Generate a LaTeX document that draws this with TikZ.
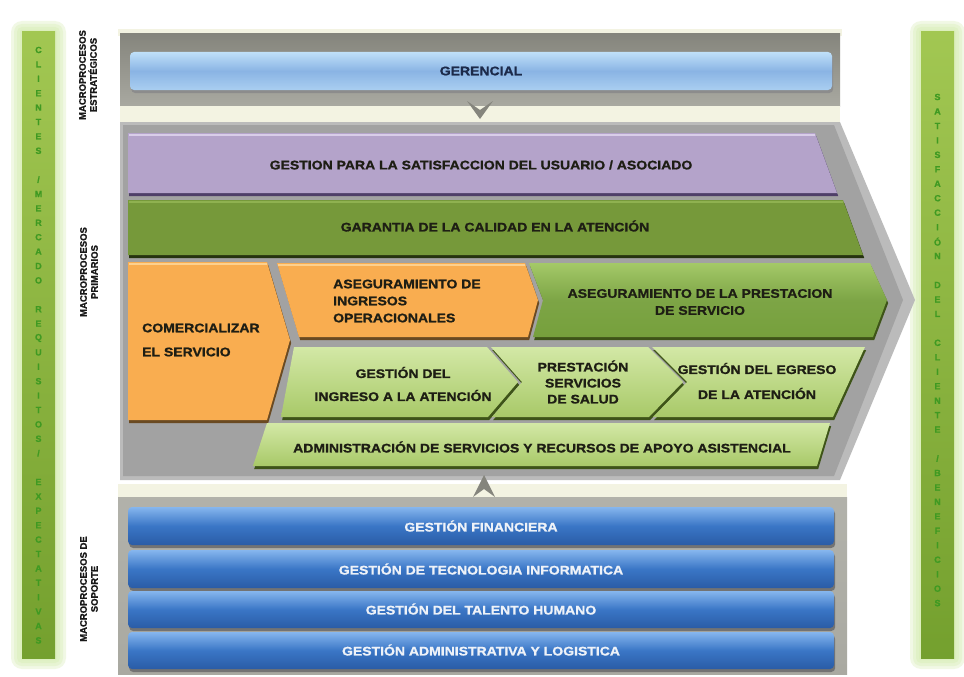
\documentclass[tikz,border=0pt]{standalone}
\usepackage{fontspec}
\setmainfont{Liberation Sans}[FakeStretch=1.12, BoldFeatures={FakeBold=1.2}]
\newfontfamily\tagfont{Liberation Sans}[BoldFeatures={FakeBold=1}]
\usetikzlibrary{calc}

\definecolor{sidetop}{HTML}{A2C752}
\definecolor{sidebot}{HTML}{74A02E}
\definecolor{sideglow}{HTML}{D3EBAA}
\definecolor{sideink}{HTML}{3F9A22}
\definecolor{panelgray}{HTML}{A9A9A1}
\definecolor{paneldark}{HTML}{85857D}
\definecolor{cream}{HTML}{F3F3E2}
\definecolor{grayout}{HTML}{BBBBBB}
\definecolor{grayin}{HTML}{A2A2A2}
\definecolor{gerblue}{HTML}{8AB4E4}
\definecolor{gerbluetop}{HTML}{BFE0F9}
\definecolor{gertext}{HTML}{1C2A4A}
\definecolor{lilac}{HTML}{B4A3CA}
\definecolor{lilactop}{HTML}{D9CDE9}
\definecolor{lilacshadow}{HTML}{4F3F68}
\definecolor{olive}{HTML}{76993A}
\definecolor{olivetop}{HTML}{8FB150}
\definecolor{oliveshadow}{HTML}{26330F}
\definecolor{orng}{HTML}{F9AD50}
\definecolor{orngtop}{HTML}{FDD08E}
\definecolor{orngshadow}{HTML}{6A4A22}
\definecolor{midgreen}{HTML}{76A03C}
\definecolor{midgreentop}{HTML}{A4C968}
\definecolor{lightgreen}{HTML}{A8C968}
\definecolor{lightgreentop}{HTML}{D3E8A6}
\definecolor{greenshadow}{HTML}{3E5418}
\definecolor{supblue}{HTML}{3A76C6}
\definecolor{supbluetop}{HTML}{86B6EE}
\definecolor{supbluebot}{HTML}{2A5CA6}
\definecolor{darktext}{HTML}{1E1E14}
\definecolor{suptext}{HTML}{EEF2F8}

\tikzset{
  lbl/.style={font=\bfseries\fontsize{12.5}{15}\selectfont, text=darktext, align=center, inner sep=0pt},
  suplbl/.style={lbl, text=suptext},
  sidechar/.style={font=\tagfont\bfseries\fontsize{9}{9}\selectfont, text=sideink, inner sep=0pt},
  vtag/.style={font=\tagfont\bfseries\fontsize{9.5}{11}\selectfont, text=black!90, rotate=90, align=center, inner sep=0pt},
  dropshade/.style={preaction={fill=#1, transform canvas={shift={(1.2pt,-3pt)}}}},
  lightchev/.style={top color=lightgreentop, bottom color=lightgreen, dropshade=greenshadow},
  supbar/.style={rounded corners=4pt, top color=supbluetop, bottom color=supbluebot, middle color=supblue,
    dropshade=black!55},
}

\begin{document}
\begin{tikzpicture}[x=1pt,y=-1pt]
\useasboundingbox (0,0) rectangle (964,677);
\fill[white] (0,0) rectangle (964,677);

% ---- side bars with soft glow ----
\foreach \bx in {22,921}{
  \foreach \g in {11,8,5,2}{
    \fill[sideglow, opacity=0.3, rounded corners=\g pt] ({\bx-\g},{32-\g}) rectangle ({\bx+33+\g},{658+\g});
  }
  \shade[top color=sidetop, bottom color=sidebot] (\bx,32) rectangle ({\bx+33},658);
}
\foreach \c [count=\i] in {C,L,I,E,N,T,E,S,{},/,M,E,R,C,A,D,O,{},R,E,Q,U,I,S,I,T,O,S,/,{},E,X,P,E,C,T,A,T,I,V,A,S}
  \node[sidechar] (cl\i) at (38.5,{50+(\i-1)*14.4}) {\c};
\foreach \c [count=\i] in {S,A,T,I,S,F,A,C,C,I,Ó,N,{},D,E,L,{},C,L,I,E,N,T,E,{},/,B,E,N,E,F,I,C,I,O,S}
  \node[sidechar] (sc\i) at (937.5,{97+(\i-1)*14.46}) {\c};

% ---- row labels ----
\node[vtag] (tagest) at (88,75) {MACROPROCESOS\\ESTRATÉGICOS};
\node[vtag] (tagpri) at (89,272) {MACROPROCESOS\\PRIMARIOS};
\node[vtag] (tagsop) at (89,589) {MACROPROCESOS DE\\SOPORTE};

% ---- strategic level ----
\fill[cream] (118,29) rectangle (842,36);
\shade[top color=paneldark, bottom color=panelgray] (120,34) rectangle (840,106);
\fill[cream] (120,106) rectangle (840,123);
\path[rounded corners=4pt, top color=gerbluetop, bottom color=gerbluetop!60!gerblue, middle color=gerblue,
  dropshade=black!45] (130,52) rectangle (832,90);
\node[lbl, text=gertext] (ger) at (481,71) {GERENCIAL};
\fill[paneldark] (467,101) -- (480,110) -- (493,101) -- (480,119) -- cycle;

% ---- primary level ----
\fill[grayout] (120,122) -- (840,122) -- (915,300) -- (840,480) -- (120,480) -- cycle;
\fill[grayin] (123,125) -- (834,125) -- (903,300) -- (834,476) -- (123,476) -- cycle;

\fill[lilac, dropshade=lilacshadow] (128,133) -- (815,133) -- (837,193) -- (128,193) -- cycle;
\draw[lilactop, line width=2.5pt] (129,135) -- (815,135);
\node[lbl] (usu) at (481,165) {GESTION PARA LA SATISFACCION DEL USUARIO / ASOCIADO};

\fill[olive, dropshade=oliveshadow] (128,200) -- (843,200) -- (863,255) -- (128,255) -- cycle;
\draw[olivetop, line width=2pt] (129,202) -- (843,202);
\node[lbl] (cal) at (495,226) {GARANTIA DE LA CALIDAD EN LA ATENCIÓN};

\fill[orng, dropshade=orngshadow] (128,262) -- (267,262) -- (290,340) -- (267,420) -- (128,420) -- cycle;
\draw[orngtop, line width=2pt] (129,264) -- (267,264);
\node[lbl, align=left, anchor=west, font=\bfseries\fontsize{12.5}{24}\selectfont] (com) at (142,340) {COMERCIALIZAR\\EL SERVICIO};

\fill[orng, dropshade=orngshadow] (277,263) -- (525,263) -- (538,300) -- (528,337) -- (299,337) -- cycle;
\draw[orngtop, line width=2pt] (278,265) -- (525,265);
\node[lbl, align=left, anchor=west, font=\bfseries\fontsize{12.5}{17}\selectfont] (ing) at (333,301) {ASEGURAMIENTO DE\\INGRESOS\\OPERACIONALES};

\path[top color=midgreentop, bottom color=midgreen, middle color=midgreen!95!white, dropshade=greenshadow]
  (529,263) -- (870,263) -- (887,300) -- (873,337) -- (533,337) -- (543,300) -- cycle;
\node[lbl, font=\bfseries\fontsize{12.5}{17}\selectfont] (pre) at (700,302) {ASEGURAMIENTO DE LA PRESTACION\\DE SERVICIO};

\path[lightchev] (294,347) -- (487,347) -- (518,382) -- (488,417) -- (281,417) -- cycle;
\node[lbl, font=\bfseries\fontsize{12.5}{23}\selectfont] (gin) at (403,384) {GESTIÓN DEL\\INGRESO A LA ATENCIÓN};

\path[lightchev] (491,347) -- (648,347) -- (683,382) -- (649,417) -- (492,417) -- (522,382) -- cycle;
\node[lbl, font=\bfseries\fontsize{12.5}{16}\selectfont] (sal) at (583,382) {PRESTACIÓN\\SERVICIOS\\DE SALUD};

\path[lightchev] (652,347) -- (865,347) -- (833,417) -- (653,417) -- (687,382) -- cycle;
\node[lbl, font=\bfseries\fontsize{12.5}{25}\selectfont] (egr) at (757,381) {GESTIÓN DEL EGRESO\\DE LA ATENCIÓN};

\path[lightchev] (267,423) -- (830,423) -- (817,466) -- (253,466) -- cycle;
\node[lbl] (adm) at (542,447) {ADMINISTRACIÓN DE SERVICIOS Y RECURSOS DE APOYO ASISTENCIAL};

% ---- support level ----
\fill[cream] (118,484) rectangle (847,498);
\shade[top color=panelgray!90!white, bottom color=panelgray] (118,497) rectangle (847,674);
\fill[paneldark] (473,497) -- (484,475) -- (495,497) -- (484,489) -- cycle;

\path[supbar] (128,507) rectangle (834,545);
\node[suplbl] (fin) at (481,526) {GESTIÓN FINANCIERA};
\path[supbar] (128,550) rectangle (834,588);
\node[suplbl] (tec) at (481,569) {GESTIÓN DE TECNOLOGIA INFORMATICA};
\path[supbar] (128,591) rectangle (834,628);
\node[suplbl] (tal) at (481,609) {GESTIÓN DEL TALENTO HUMANO};
\path[supbar] (128,632) rectangle (834,669);
\node[suplbl] (adl) at (481,650) {GESTIÓN ADMINISTRATIVA Y LOGISTICA};
\end{tikzpicture}
\end{document}
